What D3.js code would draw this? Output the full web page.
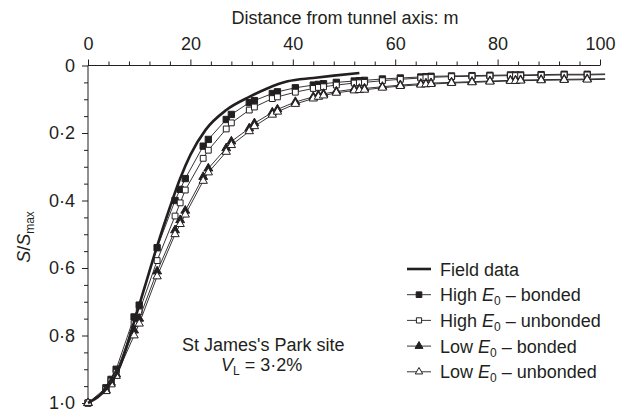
<!DOCTYPE html>
<html>
<head>
<meta charset="utf-8">
<script src="https://cdn.jsdelivr.net/npm/d3@7"></script>
<style>
  body { margin: 0; background: #fff; }
  svg text { font-family: 'Liberation Sans', Arial, sans-serif; fill: #231f20; }
</style>
</head>
<body>
<svg class="settle" width="636" height="412"></svg>
<script>
// mesh node positions (m from tunnel axis)
const nodes = [0, 3.5, 4.5, 5.5, 9, 10, 13.5, 17, 18, 19, 22.5, 23.5, 27, 28, 31.5, 32.5, 36, 37, 40.5,
  44, 45, 46, 48.5, 52, 53, 54, 57.5, 61, 65, 66, 67, 71, 75, 78.5, 82.5, 83.5, 84.5, 88.5, 93, 97.5, 101];

const highBonded = [1, 0.955, 0.93, 0.9, 0.745, 0.71, 0.54, 0.4, 0.367, 0.335, 0.239, 0.219, 0.16, 0.145, 0.11, 0.104, 0.083, 0.078, 0.066,
  0.058, 0.056, 0.054, 0.05, 0.046, 0.045, 0.044, 0.04, 0.037, 0.034, 0.033, 0.032, 0.031, 0.03, 0.029, 0.028, 0.028, 0.028, 0.027, 0.026, 0.026, 0.025];
const highUnbonded = [1, 0.96, 0.935, 0.91, 0.765, 0.73, 0.578, 0.446, 0.407, 0.369, 0.275, 0.251, 0.188, 0.17, 0.132, 0.123, 0.098, 0.093, 0.079,
  0.068, 0.065, 0.063, 0.058, 0.052, 0.051, 0.05, 0.045, 0.041, 0.037, 0.036, 0.035, 0.033, 0.032, 0.031, 0.03, 0.03, 0.03, 0.029, 0.028, 0.028, 0.027];
const lowBonded = [1, 0.962, 0.94, 0.915, 0.785, 0.75, 0.61, 0.488, 0.458, 0.43, 0.33, 0.305, 0.245, 0.225, 0.186, 0.171, 0.139, 0.13, 0.108,
  0.093, 0.088, 0.084, 0.077, 0.07, 0.069, 0.068, 0.063, 0.058, 0.054, 0.053, 0.052, 0.05, 0.048, 0.046, 0.044, 0.044, 0.043, 0.042, 0.041, 0.04, 0.039];
const lowUnbonded = [1, 0.965, 0.945, 0.92, 0.8, 0.765, 0.625, 0.5, 0.47, 0.442, 0.342, 0.317, 0.256, 0.236, 0.195, 0.18, 0.146, 0.137, 0.114,
  0.098, 0.093, 0.089, 0.081, 0.074, 0.073, 0.072, 0.066, 0.061, 0.057, 0.056, 0.055, 0.052, 0.05, 0.048, 0.046, 0.046, 0.045, 0.044, 0.043, 0.042, 0.041];

const fieldX = [0, 4, 6, 9, 11, 13.5, 16, 18, 20, 23, 27, 31.5, 35, 39, 44, 48, 53];
const fieldY = [1, 0.95, 0.9, 0.76, 0.66, 0.535, 0.42, 0.335, 0.265, 0.19, 0.132, 0.093, 0.068, 0.047, 0.037, 0.03, 0.022];

const xTicks = [0, 20, 40, 60, 80, 100];
const yTicks = [0, 0.2, 0.4, 0.6, 0.8, 1.0];
const yTickLabels = ['0', '0·2', '0·4', '0·6', '0·8', '1·0'];

const legendLabels = [
  ['Field data'],
  ['High ', 'E', '0', ' – bonded'],
  ['High ', 'E', '0', ' – unbonded'],
  ['Low ', 'E', '0', ' – bonded'],
  ['Low ', 'E', '0', ' – unbonded']
];

const ink = '#231f20';

const x = d3.scaleLinear().domain([0, 100]).range([88, 600]);
const y = d3.scaleLinear().domain([0, 1]).range([65.5, 403]);

const svg = d3.select('svg.settle');

// axes
const topAxis = svg.append('g')
  .attr('transform', `translate(0, ${y(0)})`)
  .call(d3.axisTop(x).tickValues(xTicks).tickSize(6).tickPadding(10).tickFormat(d3.format('d')));
svg.append('g')
  .attr('transform', `translate(0, ${y(0)})`)
  .call(d3.axisTop(x).tickValues(d3.range(4, 100, 4).filter(d => d % 20)).tickSize(4).tickFormat(''))
  .select('.domain').remove();

const leftAxis = svg.append('g')
  .attr('transform', `translate(${x(0)}, 0)`)
  .call(d3.axisLeft(y).tickValues(yTicks).tickSize(6).tickPadding(7).tickFormat((d, i) => yTickLabels[i]));
svg.append('g')
  .attr('transform', `translate(${x(0)}, 0)`)
  .call(d3.axisLeft(y).tickValues(d3.range(1, 20).map(d => d * 0.05).filter((d, i) => (i + 1) % 4)).tickSize(4).tickFormat(''))
  .select('.domain').remove();

topAxis.select('.domain').remove();
leftAxis.select('.domain').remove();
svg.append('line').attr('x1', x(0)).attr('x2', x(100)).attr('y1', y(0)).attr('y2', y(0)).attr('stroke', ink);
svg.append('line').attr('x1', x(0)).attr('x2', x(0)).attr('y1', y(0)).attr('y2', y(1)).attr('stroke', ink);

svg.selectAll('.tick line').attr('stroke', ink);
svg.selectAll('.tick text').attr('font-size', '18px').attr('fill', ink);

svg.append('text')
  .text('Distance from tunnel axis: m')
  .attr('x', 345)
  .attr('y', 24)
  .attr('text-anchor', 'middle')
  .attr('font-size', '18px');

const yTitle = svg.append('text')
  .attr('transform', 'translate(30, 237) rotate(-90)')
  .attr('text-anchor', 'middle')
  .attr('font-size', '18px');
yTitle.append('tspan').attr('font-style', 'italic').text('S');
yTitle.append('tspan').text('/');
yTitle.append('tspan').attr('font-style', 'italic').text('S');
yTitle.append('tspan').attr('font-size', '12px').attr('dy', 4).text('max');

// series
const series = [
  {vals: highBonded, shape: d3.symbolSquare, size: 40, fill: ink},
  {vals: highUnbonded, shape: d3.symbolSquare, size: 34, fill: '#fff'},
  {vals: lowBonded, shape: d3.symbolTriangle, size: 34, fill: ink},
  {vals: lowUnbonded, shape: d3.symbolTriangle, size: 30, fill: '#fff'}
];

const line = d3.line().x(d => x(d[0])).y(d => y(d[1]));

series.forEach(s => {
  const pts = nodes.map((n, i) => [n, s.vals[i]]);
  svg.append('path')
    .attr('d', line(pts))
    .attr('fill', 'none')
    .attr('stroke', ink)
    .attr('stroke-width', 0.9);
  svg.append('g').selectAll('path')
    .data(pts.slice(0, -1))
    .enter()
    .append('path')
      .attr('transform', d => `translate(${x(d[0])}, ${y(d[1])})`)
      .attr('d', d3.symbol().type(s.shape).size(s.size))
      .attr('fill', s.fill)
      .attr('stroke', ink)
      .attr('stroke-width', 1);
});

svg.append('path')
  .attr('d', d3.line().curve(d3.curveMonotoneX).x(d => x(d[0])).y(d => y(d[1]))(fieldX.map((v, i) => [v, fieldY[i]])))
  .attr('fill', 'none')
  .attr('stroke', ink)
  .attr('stroke-width', 2.6);

// legend
const legend = svg.append('g').attr('transform', 'translate(407, 269)');
legendLabels.forEach((parts, i) => {
  const g = legend.append('g').attr('transform', `translate(0, ${i * 25.7})`);
  g.append('line')
    .attr('x1', 0).attr('x2', 24)
    .attr('stroke', ink)
    .attr('stroke-width', i === 0 ? 2.6 : 0.9);
  if (i > 0) {
    const s = series[i - 1];
    g.append('path')
      .attr('transform', 'translate(12, 0)')
      .attr('d', d3.symbol().type(s.shape).size(s.size * 0.8))
      .attr('fill', s.fill)
      .attr('stroke', ink);
  }
  const t = g.append('text')
    .attr('x', 33)
    .attr('y', 6.5)
    .attr('font-size', '18px');
  if (parts.length === 1) {
    t.text(parts[0]);
  } else {
    t.append('tspan').text(parts[0]);
    t.append('tspan').attr('font-style', 'italic').text(parts[1]);
    t.append('tspan').attr('font-size', '12px').attr('dy', 4).text(parts[2]);
    t.append('tspan').attr('dy', -4).text(parts[3]);
  }
});

// site note
svg.append('text')
  .text("St James's Park site")
  .attr('x', 182)
  .attr('y', 351)
  .attr('font-size', '18px');
const vl = svg.append('text')
  .attr('x', 221)
  .attr('y', 371)
  .attr('font-size', '18px');
vl.append('tspan').attr('font-style', 'italic').text('V');
vl.append('tspan').attr('font-size', '12px').attr('dy', 4).text('L');
vl.append('tspan').attr('dy', -4).text(' = 3·2%');
</script>
</body>
</html>
